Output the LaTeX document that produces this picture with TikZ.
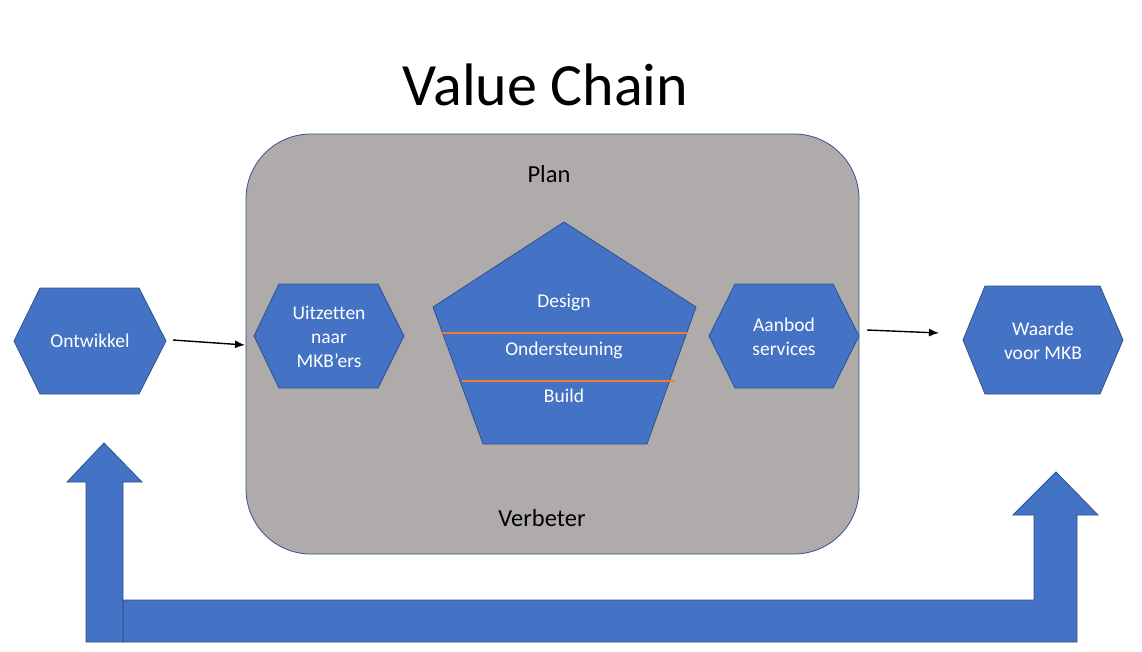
\documentclass[tikz,border=0pt]{standalone}
\usepackage{fontspec}
\setmainfont{Carlito}[Ligatures=NoCommon]
\usetikzlibrary{arrows.meta}
\definecolor{hexblue}{HTML}{4472C4}
\definecolor{edgeblue}{HTML}{2F528F}
\definecolor{boxgray}{HTML}{AFABAB}
\definecolor{lineorange}{HTML}{ED7D31}
\begin{document}
\begin{tikzpicture}[x=1pt,y=-1pt,
  shapefill/.style={fill=hexblue,draw=edgeblue,line width=0.8pt,line join=miter},
  hexlabel/.style={text=white,font=\fontsize{19.5}{24}\selectfont,align=center,inner sep=0pt},
  pentlabel/.style={text=white,font=\fontsize{19.5}{24}\selectfont,anchor=base,inner sep=0pt},
  zonelabel/.style={text=black,font=\fontsize{24.5}{28}\selectfont,anchor=base,inner sep=0pt},
  flow/.style={-{Latex[length=10pt,width=8pt]},line width=1.4pt,black},
  divider/.style={draw=lineorange,line width=1.3pt}
]
\useasboundingbox[fill=white] (0,0) rectangle (1142,651);

% title
\node[font=\fontsize{60}{70}\selectfont,anchor=base,inner sep=0pt] (title) at (545.5,105) {Value Chain};

% big rounded box
\draw[fill=boxgray,draw=edgeblue,line width=0.8pt,rounded corners=65pt] (246,134) rectangle (859,554);
\node[zonelabel] (plan) at (549,182) {Plan};
\node[zonelabel] (verbeter) at (542,526) {Verbeter};

% hexagons
\path[shapefill] (14,341) -- (40,288) -- (139,288) -- (166,341) -- (139,394) -- (40,394) -- cycle;
\node[hexlabel] (ontwikkel) at (90,341) {Ontwikkel};

\path[shapefill] (254,336) -- (279,284) -- (378,284) -- (404,336) -- (378,388) -- (279,388) -- cycle;
\node[hexlabel] (uitzetten) at (329,337) {Uitzetten\\naar\\MKB’ers};

\path[shapefill] (709,336) -- (735,284) -- (833,284) -- (859,336) -- (833,388) -- (735,388) -- cycle;
\node[hexlabel] (aanbod) at (784,337) {Aanbod\\services};

\path[shapefill] (963,340) -- (985,286) -- (1100,286) -- (1123,340) -- (1100,394) -- (985,394) -- cycle;
\node[hexlabel] (waarde) at (1043,341) {Waarde\\voor MKB};

% pentagon
\path[shapefill] (564,222) -- (696,307) -- (647,444) -- (483,444) -- (433,307) -- cycle;
\draw[divider] (441,333) -- (687,333);
\draw[divider] (462,381) -- (675,381);
\node[pentlabel] (design) at (564,307) {Design};
\node[pentlabel] (ondersteuning) at (564,355) {Ondersteuning};
\node[pentlabel] (build) at (564,402) {Build};

% connectors
\coordinate (ontwikkelOut) at (173,340);
\coordinate (boxIn) at (245,345);
\draw[flow] (ontwikkelOut) -- (boxIn);
\coordinate (boxOut) at (867,330);
\coordinate (waardeIn) at (939,333);
\draw[flow] (boxOut) -- (waardeIn);

% feedback loop arrows
\path[shapefill] (123,600) -- (1034,600) -- (1034,515) -- (1013,515) -- (1056,472) -- (1098,515) -- (1077,515) -- (1077,642) -- (123,642) -- cycle;
\path[shapefill] (86,642) -- (86,482) -- (67,482) -- (104,443) -- (142,482) -- (123,482) -- (123,642) -- cycle;
\end{tikzpicture}
\end{document}
